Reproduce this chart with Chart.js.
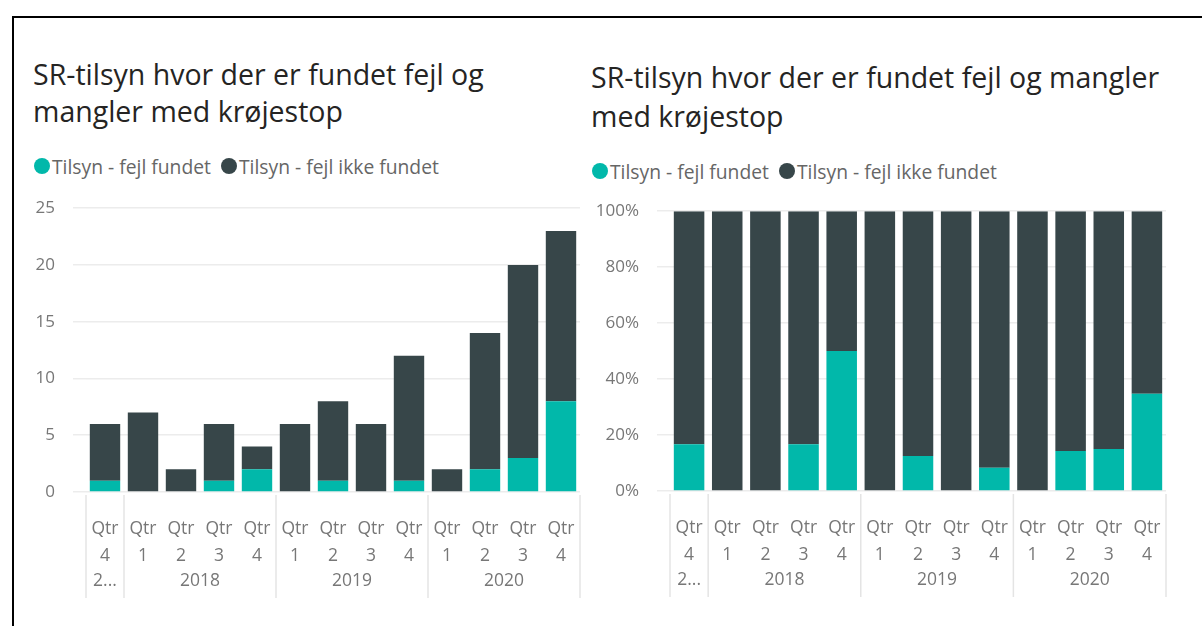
<!DOCTYPE html>
<html>
<head>
<meta charset="utf-8">
<script src="https://cdn.jsdelivr.net/npm/chart.js@4.4.0/dist/chart.umd.min.js"></script>
<style>
  body { margin: 0; background: #fff; width: 1202px; height: 626px; overflow: hidden; position: relative; font-family: "Segoe UI", "Open Sans", sans-serif; }
  #frame { position: absolute; left: 12px; top: 16px; width: 1200px; height: 700px; border: 2px solid #000; }
  .title { position: absolute; font-size: 28.5px; color: #252423; white-space: nowrap; }
  .legend { position: absolute; font-size: 19.3px; color: #666; white-space: nowrap; display: flex; align-items: center; height: 24px; }
  .legend .dot { display: inline-block; width: 16px; height: 16px; border-radius: 50%; margin-right: 2px; }
  .legend .item { display: flex; align-items: center; margin-right: 10px; }
  canvas { position: absolute; }
</style>
</head>
<body>
<div id="frame"></div>
<div class="title" style="left:33px; top:56px; line-height:37px;">SR-tilsyn hvor der er fundet fejl og<br>mangler med krøjestop</div>
<div class="title" style="left:591px; top:58px; line-height:39px;">SR-tilsyn hvor der er fundet fejl og mangler<br>med krøjestop</div>
<div class="legend" id="legend1" style="left:34px; top:154px;"></div>
<div class="legend" id="legend2" style="left:592px; top:159px;"></div>
<canvas id="chart1" width="570" height="420" style="left:20px; top:180px;"></canvas>
<canvas id="chart2" width="605" height="417" style="left:585px; top:183px;"></canvas>
<script>
// quarters shown on the axis
const quarters = ['4', '1', '2', '3', '4', '1', '2', '3', '4', '1', '2', '3', '4'];
const years = ['2017', '2018', '2018', '2018', '2018', '2019', '2019', '2019', '2019', '2020', '2020', '2020', '2020'];

// inspections per quarter
const fejlFundet = [1, 0, 0, 1, 2, 0, 1, 0, 1, 0, 2, 3, 8];
const fejlIkkeFundet = [5, 7, 2, 5, 2, 6, 7, 6, 11, 2, 12, 17, 15];

const seriesNames = ['Tilsyn - fejl fundet', 'Tilsyn - fejl ikke fundet'];
const seriesColors = ['#01B8AA', '#374649'];

const countTicks = [0, 5, 10, 15, 20, 25];
const pctTicks = [0, 20, 40, 60, 80, 100];

// share of each quarter, for the 100% chart
const fundetPct = fejlFundet.map((v, i) => v / (v + fejlIkkeFundet[i]) * 100);
const ikkeFundetPct = fejlIkkeFundet.map((v, i) => v / (v + fejlFundet[i]) * 100);

const labels = quarters.map((q, i) => 'Qtr ' + q + ' ' + years[i]);
const axisFont = '"Segoe UI", "Open Sans", sans-serif';

function makeLegend(id) {
  let el = document.getElementById(id);
  seriesNames.forEach((name, i) => {
    let item = document.createElement('span');
    item.className = 'item';
    let dot = document.createElement('span');
    dot.className = 'dot';
    dot.style.background = seriesColors[i];
    item.appendChild(dot);
    item.appendChild(document.createTextNode(name));
    el.appendChild(item);
  });
}
makeLegend('legend1');
makeLegend('legend2');

// draws the Qtr / number / year rows and the year separators under the bars
const quarterAxis = {
  id: 'quarterAxis',
  afterDraw(chart) {
    let ctx = chart.ctx;
    let x = chart.scales.x;
    let bottom = chart.chartArea.bottom;
    let band = x.width / quarters.length;
    ctx.save();
    ctx.fillStyle = '#777';
    ctx.font = '17.5px ' + axisFont;
    ctx.textAlign = 'center';
    ctx.textBaseline = 'middle';
    for (let i = 0; i < quarters.length; i++) {
      let px = x.getPixelForValue(i);
      ctx.fillText('Qtr', px, bottom + 37);
      ctx.fillText(quarters[i], px, bottom + 64);
    }
    // year groups
    let groups = [];
    years.forEach((y, i) => {
      let g = groups[groups.length - 1];
      if (g && g.year === y) g.to = i;
      else groups.push({ year: y, from: i, to: i });
    });
    ctx.strokeStyle = '#e4e4e4';
    ctx.lineWidth = 1.5;
    groups.forEach(g => {
      let left = x.getPixelForValue(g.from) - band / 2;
      let right = x.getPixelForValue(g.to) + band / 2;
      let text = g.year;
      if (g.to === g.from) text = g.year[0] + '...';
      ctx.fillText(text, (left + right) / 2, bottom + 89);
      ctx.beginPath();
      ctx.moveTo(left, bottom + 3);
      ctx.lineTo(left, bottom + 106);
      ctx.stroke();
    });
    let end = x.getPixelForValue(quarters.length - 1) + band / 2;
    ctx.beginPath();
    ctx.moveTo(end, bottom + 3);
    ctx.lineTo(end, bottom + 106);
    ctx.stroke();
    ctx.restore();
  }
};

function makeChart(id, d1, d2, ticks, suffix, yWidth, xHeight, pad) {
  return new Chart(document.getElementById(id), {
    type: 'bar',
    data: {
      labels: labels,
      datasets: [
        { label: seriesNames[0], data: d1, backgroundColor: seriesColors[0] },
        { label: seriesNames[1], data: d2, backgroundColor: seriesColors[1] }
      ]
    },
    options: {
      responsive: false,
      animation: false,
      devicePixelRatio: 1,
      layout: { padding: pad },
      plugins: { legend: { display: false }, tooltip: { enabled: false } },
      datasets: { bar: { categoryPercentage: 1, barPercentage: 0.8 } },
      scales: {
        x: {
          stacked: true,
          grid: { display: false },
          border: { display: false },
          ticks: { display: false },
          afterFit(scale) { scale.height = xHeight; }
        },
        y: {
          stacked: true,
          min: ticks[0],
          max: ticks[ticks.length - 1],
          afterBuildTicks(scale) { scale.ticks = ticks.map(v => ({ value: v })); },
          grid: { color: '#ececec', lineWidth: 1.5, tickLength: 13 },
          border: { display: false },
          ticks: {
            color: '#777',
            padding: 18,
            font: { family: axisFont, size: 17 },
            callback: v => v + suffix
          },
          afterFit(scale) { scale.width = yWidth; }
        }
      }
    },
    plugins: [quarterAxis]
  });
}

makeChart('chart1', fejlFundet, fejlIkkeFundet, countTicks, '', 66, 108, { top: 12, right: 10, bottom: 0, left: 0 });
makeChart('chart2', fundetPct, ikkeFundetPct, pctTicks, '%', 85, 109, { top: 15, right: 24, bottom: 0, left: 0 });
</script>
</body>
</html>
